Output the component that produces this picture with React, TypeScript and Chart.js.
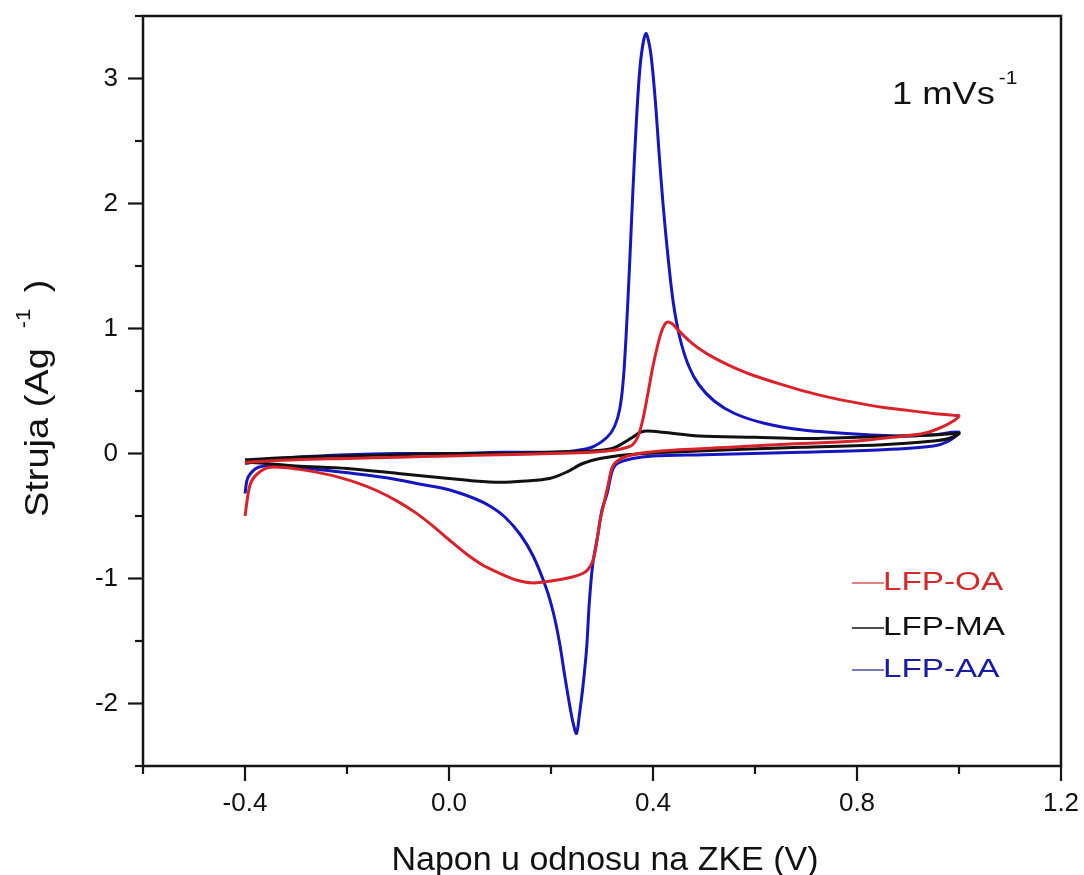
import React, { useEffect, useRef } from 'react';
import { Chart, registerables } from 'chart.js';

Chart.register(...registerables);

// ---- data (potential in V vs. SCE, current in A/g) ----
const oaPotential = [
  -0.40, -0.30, -0.20, -0.10, 0.00, 0.10, 0.20, 0.28, 0.33, 0.35, 0.36, 0.37, 0.38, 0.39, 0.40, 0.41, 0.418, 0.427, 0.437, 0.45, 0.47, 0.49, 0.52, 0.56, 0.60, 0.65, 0.70, 0.75, 0.80, 0.85, 0.90, 0.95, 0.99, 1.0,
  0.985, 0.96, 0.93, 0.87, 0.8, 0.69, 0.55, 0.45, 0.39, 0.35, 0.33, 0.32, 0.312, 0.305, 0.296, 0.288, 0.282, 0.272, 0.262, 0.24, 0.2, 0.164, 0.13, 0.1, 0.065, 0.033, 0.0, -0.033, -0.065, -0.1, -0.14, -0.18, -0.23, -0.296, -0.35, -0.375, -0.39, -0.40,
];
const oaCurrent = [
  -0.07, -0.05, -0.04, -0.03, -0.02, -0.01, 0.0, 0.01, 0.03, 0.05, 0.07, 0.13, 0.27, 0.48, 0.70, 0.88, 0.99, 1.05, 1.04, 0.985, 0.905, 0.84, 0.765, 0.685, 0.62, 0.555, 0.495, 0.445, 0.405, 0.37, 0.345, 0.32, 0.305, 0.30,
  0.25, 0.2, 0.16, 0.13, 0.1, 0.08, 0.05, 0.03, 0.01, -0.02, -0.06, -0.11, -0.25, -0.38, -0.54, -0.75, -0.86, -0.93, -0.96, -0.99, -1.02, -1.035, -1.01, -0.96, -0.89, -0.8, -0.69, -0.575, -0.475, -0.385, -0.3, -0.235, -0.175, -0.125, -0.11, -0.16, -0.25, -0.5,
];

const maPotential = [
  -0.40, -0.30, -0.20, -0.10, 0.00, 0.10, 0.20, 0.28, 0.32, 0.34, 0.36, 0.375, 0.39, 0.42, 0.49, 0.6, 0.69, 0.8, 0.887, 0.96, 1.0,
  0.98, 0.95, 0.85, 0.69, 0.55, 0.43, 0.35, 0.296, 0.262, 0.23, 0.197, 0.15, 0.1, 0.05, 0.0, -0.1, -0.2, -0.3, -0.36, -0.40,
];
const maCurrent = [
  -0.05, -0.03, -0.02, -0.01, 0.0, 0.0, 0.01, 0.02, 0.04, 0.08, 0.13, 0.17, 0.18, 0.17, 0.14, 0.13, 0.12, 0.13, 0.14, 0.15, 0.16,
  0.12, 0.1, 0.07, 0.05, 0.03, 0.01, -0.01, -0.04, -0.08, -0.15, -0.2, -0.22, -0.23, -0.22, -0.2, -0.16, -0.12, -0.1, -0.08, -0.07,
];

const aaPotential = [
  -0.40, -0.35, -0.30, -0.20, -0.10, 0.00, 0.10, 0.20, 0.243, 0.28, 0.31, 0.325, 0.335, 0.342, 0.348, 0.354, 0.36, 0.368, 0.376, 0.386, 0.395, 0.404, 0.412, 0.42, 0.43, 0.44, 0.453, 0.47, 0.49, 0.52, 0.56, 0.62, 0.69, 0.78, 0.887, 0.95, 1.0,
  0.98, 0.95, 0.85, 0.69, 0.5, 0.4, 0.36, 0.33, 0.32, 0.31, 0.3, 0.292, 0.282, 0.275, 0.27, 0.263, 0.256, 0.25, 0.243, 0.236, 0.227, 0.217, 0.205, 0.19, 0.165, 0.14, 0.11, 0.08, 0.05, 0.0, -0.05, -0.13, -0.23, -0.33, -0.374, -0.394, -0.40,
];
const aaCurrent = [
  -0.08, -0.05, -0.03, -0.01, 0.0, 0.0, 0.01, 0.01, 0.02, 0.05, 0.13, 0.22, 0.36, 0.6, 1.0, 1.5, 2.05, 2.7, 3.15, 3.36, 3.22, 2.85, 2.4, 1.98, 1.55, 1.2, 0.92, 0.7, 0.55, 0.42, 0.32, 0.24, 0.19, 0.16, 0.14, 0.15, 0.17,
  0.1, 0.06, 0.03, 0.01, -0.01, -0.02, -0.04, -0.08, -0.14, -0.32, -0.45, -0.65, -0.88, -1.2, -1.55, -1.85, -2.08, -2.24, -2.15, -2.0, -1.78, -1.52, -1.28, -1.07, -0.82, -0.65, -0.51, -0.42, -0.36, -0.29, -0.25, -0.19, -0.14, -0.1, -0.11, -0.19, -0.32,
];

const seriesNames = ['LFP-OA', 'LFP-MA', 'LFP-AA'];
const seriesColors = ['#d9232b', '#111111', '#1616c0'];
const legendTextColors = ['#d42a2a', '#111111', '#1a1aa8'];
const legendLineColors = ['#e06060', '#222222', '#5a5aa0'];

const xTickLabels = ['-0.4', '0.0', '0.4', '0.8', '1.2'];
const yTickLabels = ['-2', '-1', '0', '1', '2', '3'];

const xTitle = 'Napon u odnosu na ZKE (V)';
const yTitleMain = 'Struja (Ag';
const scanRateText = '1 mVs';
const superText = '-1';

const FONT = '"Liberation Sans", Arial, Helvetica, sans-serif';

function toPoints(xs: number[], ys: number[]) {
  return xs.map((v, i) => ({ x: v, y: ys[i] }));
}

function findLabel(labels: string[], value: number) {
  const l = labels.find((s) => Math.abs(parseFloat(s) - value) < 1e-6);
  return l === undefined ? '' : l;
}

function drawText(ctx: CanvasRenderingContext2D, text: string, x: number, y: number, size: number, sx: number, color: string) {
  ctx.save();
  ctx.translate(x, y);
  ctx.scale(sx, 1);
  ctx.font = `${size}px ${FONT}`;
  ctx.fillStyle = color;
  ctx.textAlign = 'left';
  ctx.textBaseline = 'alphabetic';
  ctx.fillText(text, 0, 0);
  const w = ctx.measureText(text).width * sx;
  ctx.restore();
  return w;
}

const decorPlugin = {
  id: 'decor',
  afterDraw(chart: any) {
    const { ctx, chartArea: a, scales } = chart;
    const xs = scales.x;
    const ys = scales.y;
    ctx.save();
    // frame
    ctx.strokeStyle = '#151515';
    ctx.lineWidth = 2.5;
    ctx.strokeRect(a.left, a.top, a.right - a.left, a.bottom - a.top);
    // ticks
    ctx.lineWidth = 2.2;
    xs.ticks.forEach((t: any) => {
      const px = xs.getPixelForValue(t.value);
      const major = findLabel(xTickLabels, t.value) !== '';
      ctx.beginPath();
      ctx.moveTo(px, a.bottom);
      ctx.lineTo(px, a.bottom + (major ? 15 : 8));
      ctx.stroke();
    });
    ys.ticks.forEach((t: any) => {
      const py = ys.getPixelForValue(t.value);
      const major = findLabel(yTickLabels, t.value) !== '';
      ctx.beginPath();
      ctx.moveTo(a.left, py);
      ctx.lineTo(a.left - (major ? 15 : 8), py);
      ctx.stroke();
    });

    // x title
    ctx.font = `34px ${FONT}`;
    ctx.fillStyle = '#111';
    ctx.textAlign = 'center';
    ctx.textBaseline = 'alphabetic';
    ctx.fillText(xTitle, 605, 870);

    // y title (rotated)
    ctx.save();
    ctx.translate(48, 517);
    ctx.rotate(-Math.PI / 2);
    const w1 = drawText(ctx, yTitleMain, 0, 0, 33, 1.15, '#111');
    drawText(ctx, superText, w1 + 20, -18, 20, 1.1, '#111');
    drawText(ctx, ')', w1 + 56, 0, 33, 1.15, '#111');
    ctx.restore();

    // scan-rate annotation
    const w2 = drawText(ctx, scanRateText, 892, 104, 31, 1.17, '#111');
    drawText(ctx, superText, 892 + w2 + 4, 84, 19, 1.1, '#111');

    // legend
    const ly = [583, 628, 670];
    seriesNames.forEach((name, i) => {
      ctx.strokeStyle = legendLineColors[i];
      ctx.lineWidth = 1.6;
      ctx.beginPath();
      ctx.moveTo(852, ly[i]);
      ctx.lineTo(884, ly[i]);
      ctx.stroke();
      drawText(ctx, name, 883, ly[i] + 7, 26, 1.28, legendTextColors[i]);
    });
    ctx.restore();
  },
};

export default function App() {
  const canvasRef = useRef<HTMLCanvasElement | null>(null);

  useEffect(() => {
    document.body.style.margin = '0';
    const canvas = canvasRef.current;
    if (!canvas) return;
    Chart.defaults.font.family = FONT;
    const potentials = [oaPotential, maPotential, aaPotential];
    const currents = [oaCurrent, maCurrent, aaCurrent];
    const chart = new Chart(canvas, {
      type: 'scatter',
      data: {
        datasets: seriesNames.map((name, i) => ({
          label: name,
          data: toPoints(potentials[i], currents[i]),
          showLine: true,
          borderColor: seriesColors[i],
          backgroundColor: seriesColors[i],
          borderWidth: 3,
          pointRadius: 0,
          pointHoverRadius: 0,
          tension: 0.3,
          fill: false,
        })),
      },
      options: {
        animation: false,
        responsive: false,
        maintainAspectRatio: false,
        events: [],
        layout: { padding: { left: 0, top: 16, right: 23, bottom: 0 } },
        plugins: { legend: { display: false }, tooltip: { enabled: false } },
        scales: {
          x: {
            type: 'linear',
            min: -0.6,
            max: 1.2,
            grid: { display: false, drawTicks: false },
            border: { display: false },
            ticks: {
              stepSize: 0.2,
              autoSkip: false,
              maxRotation: 0,
              padding: 22,
              color: '#111',
              font: { size: 26 },
              callback: (v: any) => findLabel(xTickLabels, Number(v)),
            },
            afterFit: (s: any) => {
              s.height = 109;
              s.paddingLeft = 0;
              s.paddingRight = 0;
              s.paddingTop = 0;
              s.paddingBottom = 0;
            },
          },
          y: {
            type: 'linear',
            min: -2.5,
            max: 3.5,
            grid: { display: false, drawTicks: false },
            border: { display: false },
            ticks: {
              stepSize: 0.5,
              autoSkip: false,
              padding: 25,
              color: '#111',
              font: { size: 26 },
              callback: (v: any) => findLabel(yTickLabels, Number(v)),
            },
            afterFit: (s: any) => {
              s.width = 143;
              s.paddingLeft = 0;
              s.paddingRight = 0;
              s.paddingTop = 0;
              s.paddingBottom = 0;
            },
          },
        },
      },
      plugins: [decorPlugin],
    });
    return () => chart.destroy();
  }, []);

  return (
    <div style={{ width: 1084, height: 875, position: 'relative' }}>
      <canvas ref={canvasRef} width={1084} height={875} style={{ display: 'block', width: 1084, height: 875 }} />
    </div>
  );
}
